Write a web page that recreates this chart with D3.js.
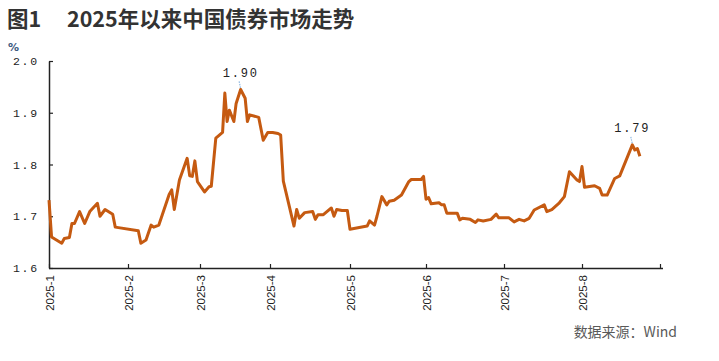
<!DOCTYPE html>
<html><head><meta charset="utf-8">
<script src="https://cdn.jsdelivr.net/npm/d3@7/dist/d3.min.js"></script>
<style>
html,body{margin:0;padding:0;background:#fff;}
svg{display:block;}
</style></head>
<body>
<script>
// ---------------- data ----------------
const titleLabel = "图1";
const titleText = "2025年以来中国债券市场走势";
const unitLabel = "%";
const sourceText = "数据来源：Wind";

const dates = [
"2025-01-01","2025-01-02","2025-01-06","2025-01-07","2025-01-09","2025-01-10","2025-01-11","2025-01-13","2025-01-15","2025-01-17",
"2025-01-20","2025-01-21","2025-01-23","2025-01-26","2025-01-27",
"2025-02-05","2025-02-06","2025-02-08","2025-02-10","2025-02-11","2025-02-13","2025-02-17","2025-02-18","2025-02-19","2025-02-21",
"2025-02-24","2025-02-25","2025-02-26","2025-02-27","2025-02-28",
"2025-03-03","2025-03-05","2025-03-06","2025-03-08","2025-03-11","2025-03-12","2025-03-13","2025-03-14","2025-03-16","2025-03-17",
"2025-03-19","2025-03-21","2025-03-22","2025-03-23","2025-03-27","2025-03-29","2025-03-31",
"2025-04-02","2025-04-04","2025-04-05","2025-04-06","2025-04-10","2025-04-11","2025-04-12","2025-04-14","2025-04-17","2025-04-18",
"2025-04-19","2025-04-21","2025-04-24","2025-04-25","2025-04-26","2025-04-28","2025-04-30",
"2025-05-01","2025-05-08","2025-05-09","2025-05-11","2025-05-12","2025-05-14","2025-05-16","2025-05-17","2025-05-19","2025-05-22",
"2025-05-25","2025-05-26","2025-05-29","2025-05-30","2025-05-31",
"2025-06-01","2025-06-02","2025-06-03","2025-06-06","2025-06-07","2025-06-08","2025-06-09","2025-06-13","2025-06-14","2025-06-15",
"2025-06-18","2025-06-20","2025-06-21","2025-06-23","2025-06-26","2025-06-28","2025-06-29",
"2025-07-03","2025-07-05","2025-07-07","2025-07-09","2025-07-11","2025-07-13","2025-07-17","2025-07-18","2025-07-20","2025-07-23",
"2025-07-25","2025-07-27","2025-07-30","2025-07-31",
"2025-08-01","2025-08-02","2025-08-06","2025-08-08","2025-08-09","2025-08-11","2025-08-14","2025-08-16","2025-08-21","2025-08-22",
"2025-08-23","2025-08-24"
];
const yields = [
1.731,1.660,1.648,1.657,1.659,1.686,1.686,1.709,1.686,1.709,
1.725,1.700,1.713,1.704,1.679,
1.672,1.648,1.654,1.683,1.679,1.683,1.742,1.751,1.713,1.770,
1.812,1.778,1.777,1.807,1.767,
1.747,1.757,1.758,1.851,1.862,1.938,1.883,1.905,1.883,1.918,
1.945,1.928,1.883,1.896,1.891,1.847,1.862,
1.862,1.860,1.857,1.768,1.681,1.713,1.696,1.707,1.709,1.694,
1.703,1.703,1.716,1.700,1.713,1.711,1.711,
1.675,1.681,1.691,1.683,1.700,1.738,1.722,1.729,1.731,1.741,
1.767,1.771,1.771,1.771,1.777,
1.733,1.736,1.724,1.726,1.722,1.722,1.706,1.706,1.693,1.696,
1.694,1.688,1.693,1.691,1.694,1.704,1.697,
1.697,1.689,1.694,1.691,1.696,1.712,1.722,1.709,1.713,1.726,
1.738,1.786,1.770,1.767,
1.796,1.756,1.759,1.754,1.741,1.741,1.773,1.778,1.838,1.828,
1.831,1.816
];

const yTicks = [1.6, 1.7, 1.8, 1.9, 2.0];
const monthTicks = ["2025-01-01","2025-02-01","2025-03-01","2025-04-01","2025-05-01","2025-06-01","2025-07-01","2025-08-01","2025-09-01"];
const monthLabels = ["2025-1","2025-2","2025-3","2025-4","2025-5","2025-6","2025-7","2025-8",""];

const annotDates = ["2025-03-19","2025-08-21"];
const annotLabels = ["1.90","1.79"];

// ---------------- chart ----------------
const W = 719, H = 361;
const parse = d3.timeParse("%Y-%m-%d");
const data = dates.map((d,i)=>({date:parse(d), v:yields[i]}));
const tickDates = monthTicks.map(parse);

const svg = d3.select("body").append("svg").attr("width",W).attr("height",H);

// x: month boundaries spaced as on the reference axis
const x = d3.scaleTime()
  .domain(tickDates)
  .range([49,128,200,270,350,426,504,582,660]);
const y = d3.scaleLinear().domain([1.6,2.0]).range([268,61]);

// title
svg.append("text").attr("x",7).attr("y",27)
  .attr("font-family","'Noto Sans CJK SC','Noto Sans',sans-serif")
  .attr("font-weight","bold").attr("font-size",21.5).attr("fill","#333")
  .text(titleLabel);
svg.append("text").attr("x",67).attr("y",27)
  .attr("font-family","'Noto Sans CJK SC','Noto Sans',sans-serif")
  .attr("font-weight","bold").attr("font-size",21.5).attr("fill","#333")
  .text(titleText);

// unit
svg.append("text").attr("x",8).attr("y",51)
  .attr("font-family","'DejaVu Sans',sans-serif").attr("font-weight","bold")
  .attr("font-size",11).attr("fill","#3d5a80").text(unitLabel);

const monoFont = "'Liberation Mono','DejaVu Sans Mono',monospace";

// y axis
const yAxis = svg.append("g").attr("transform","translate(49,0)")
  .call(d3.axisLeft(y).tickValues(yTicks).tickSizeInner(-4).tickSizeOuter(0).tickPadding(10)
        .tickFormat(d3.format(".1f")));
yAxis.select(".domain").attr("stroke","#222").attr("stroke-width",1.5);
yAxis.selectAll(".tick line").attr("stroke","#222").attr("stroke-width",1.2);
yAxis.selectAll(".tick text").attr("font-family",monoFont).attr("font-size",11.5)
  .attr("letter-spacing","1.8px").attr("fill","#222");

// x axis
const xAxis = svg.append("g").attr("transform","translate(0,268)")
  .call(d3.axisBottom(x).tickValues(tickDates).tickSizeInner(-4).tickSizeOuter(0)
        .tickFormat((d,i)=>monthLabels[i]));
xAxis.select(".domain").attr("stroke","#222").attr("stroke-width",1.5)
  .attr("d","M49,0.5H663");
xAxis.selectAll(".tick line").attr("stroke","#222").attr("stroke-width",1.2);
xAxis.selectAll(".tick text")
  .attr("transform","rotate(-90)").attr("x",-7).attr("y",0).attr("dy","0.35em")
  .attr("text-anchor","end")
  .attr("font-family","'Liberation Sans Narrow','Liberation Sans',Arial,sans-serif")
  .attr("font-size",11.5).attr("fill","#222");

// line
svg.append("path").datum(data)
  .attr("fill","none").attr("stroke","#C55A11").attr("stroke-width",3)
  .attr("stroke-linejoin","round")
  .attr("d", d3.line().x(d=>x(d.date)).y(d=>y(d.v)));

// annotations
annotDates.forEach((ds,i)=>{
  const pt = data.find(d=>+d.date === +parse(ds));
  const px = x(pt.date), py = y(pt.v);
  svg.append("line").attr("x1",px-1.5).attr("y1",py-8).attr("x2",px).attr("y2",py-1)
    .attr("stroke","#8fb8e0").attr("stroke-width",1.2).attr("stroke-dasharray","1.5,1");
  svg.append("text").attr("x",px).attr("y",py-12.5).attr("text-anchor","middle")
    .attr("font-family",monoFont).attr("font-size",12).attr("letter-spacing","1.8px")
    .attr("fill","#222").text(annotLabels[i]);
});

// source
svg.append("text").attr("x",677).attr("y",337).attr("text-anchor","end")
  .attr("font-family","'Noto Sans CJK SC','Noto Sans',sans-serif")
  .attr("font-size",14).attr("fill","#595959").text(sourceText);
</script>
</body></html>
